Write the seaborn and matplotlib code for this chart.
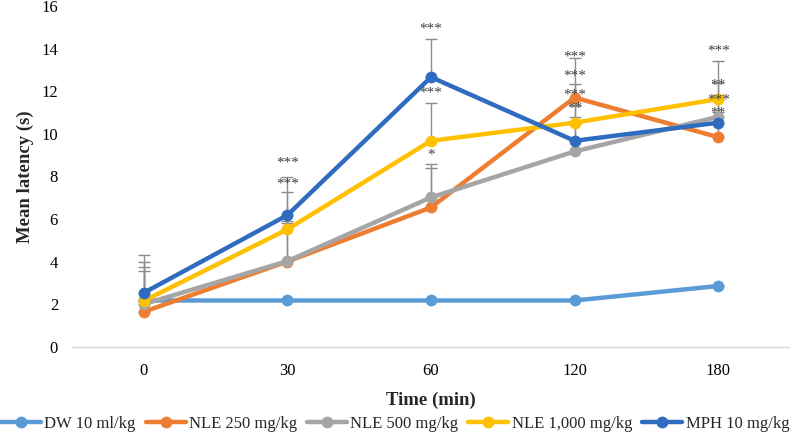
import numpy as np
import pandas as pd
import matplotlib
matplotlib.use("Agg")
import matplotlib.pyplot as plt
import seaborn as sns

# ---- data ----
times = ["0", "30", "60", "120", "180"]
groups = ["DW 10 ml/kg", "NLE 250 mg/kg", "NLE 500 mg/kg", "NLE 1,000 mg/kg", "MPH 10 mg/kg"]
dw = [2.17, 2.17, 2.17, 2.17, 2.85]
nle250 = [1.64, 4.0, 6.54, 11.7, 9.84]
nle500 = [2.0, 4.02, 7.01, 9.17, 10.8]
nle1000 = [2.15, 5.51, 9.67, 10.52, 11.63]
mph = [2.53, 6.18, 12.66, 9.67, 10.52]

err_dw = [0.0, 0.0, 0.0, 0.0, 0.0]
err_250 = [1.93, 1.8, 1.86, 1.86, 1.2]
err_500 = [1.76, 1.87, 1.59, 1.61, 1.0]
err_1000 = [1.84, 1.77, 1.76, 1.81, 1.79]
err_mph = [1.77, 1.77, 1.79, 1.63, 1.86]

# significance labels: (time index, y level, label)
star_time = [1, 1, 2, 2, 2, 3, 3, 3, 3, 4, 4, 4, 4]
star_y = [8.62, 7.63, 14.9, 11.9, 9.0, 13.6, 12.7, 11.8, 11.2, 13.88, 12.3, 11.6, 10.97]
star_lab = ["***", "***", "***", "***", "*", "***", "***", "***", "**", "***", "**", "***", "**"]

colors = ["#5B9BD5", "#ED7D31", "#A5A5A5", "#FFC000", "#2F6BBF"]

series = [dw, nle250, nle500, nle1000, mph]
errs = [err_dw, err_250, err_500, err_1000, err_mph]

rows = []
for g, vals in zip(groups, series):
    for i, v in enumerate(vals):
        rows.append({"pos": i, "time": times[i], "group": g, "val": v})
df = pd.DataFrame(rows)

# ---- style ----
sns.set_theme(style="white")
plt.rcParams["font.family"] = ["Liberation Serif", "DejaVu Serif"]

fig = plt.figure(figsize=(7.9, 4.4), dpi=100)
ax = fig.add_axes([72 / 790, 1 - 346.7 / 440, 1 - 72 / 790, (346.7 - 6) / 440])

# error bars (upper only)
for vals, e in zip(series, errs):
    ax.errorbar(range(len(times)), vals, yerr=[np.zeros(len(e)), e], fmt="none",
                ecolor="#8C8C8C", elinewidth=1.0, capsize=4, capthick=1.0, zorder=1)

sns.lineplot(data=df, x="pos", y="val", hue="group", hue_order=groups,
             palette=colors, marker="o", markersize=8.5, markeredgewidth=0,
             linewidth=3.2, ax=ax, zorder=3, legend=True)

for t, y, lab in zip(star_time, star_y, star_lab):
    ax.text(t, y, lab, ha="center", va="center", fontsize=11, color="#404040", zorder=5)

ax.set_xlim(-0.5, 4.5)
ax.set_ylim(0, 16)
ax.set_yticks(np.arange(0, 17, 2))
ax.set_xticks(range(len(times)))
ax.set_xticklabels(times)
ax.tick_params(axis="both", length=0, labelsize=12, colors="#000000")
ax.tick_params(axis="y", pad=10)
ax.tick_params(axis="x", pad=12)
for s in ["top", "right", "left"]:
    ax.spines[s].set_visible(False)
ax.spines["bottom"].set_color("#D9D9D9")
ax.spines["bottom"].set_linewidth(1)
ax.grid(False)

ax.set_xlabel("Time (min)", fontsize=13.5, fontweight="bold", labelpad=9)
ax.set_ylabel("Mean latency (s)", fontsize=13.5, fontweight="bold", labelpad=5)

handles, labels = ax.get_legend_handles_labels()
ax.get_legend().remove()
fig.legend(handles, labels, loc="lower center", bbox_to_anchor=(0.5, -0.005), ncol=5,
           frameon=False, fontsize=12, handlelength=2.4, columnspacing=0.6,
           handletextpad=0.2, borderaxespad=0.2)

fig.savefig("out.png", dpi=100)
